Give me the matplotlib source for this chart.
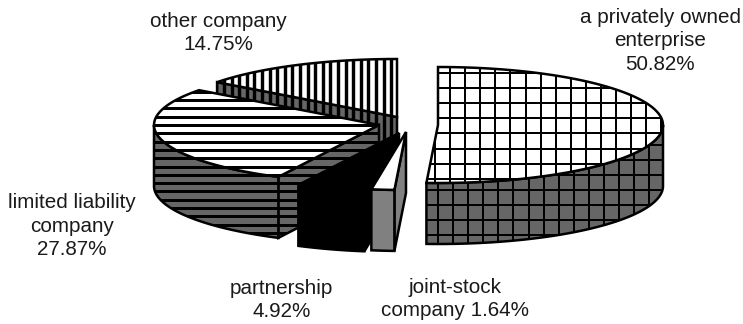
import numpy as np
import matplotlib
matplotlib.use("Agg")
import matplotlib.pyplot as plt
from matplotlib.patches import Polygon

plt.rcParams['font.family'] = ['Liberation Sans', 'DejaVu Sans']

# share of each company type, clockwise from 12 o'clock
names = ['a privately owned\nenterprise', 'joint-stock\ncompany', 'partnership',
         'limited liability\ncompany', 'other company']
shares = [50.82, 1.64, 4.92, 27.87, 14.75]

RX, RY, DEPTH = 225, 58, 61
GREY = '#666666'

# pie centre of each slice after pulling it out
centres = [(438, 125), (406, 132), (399, 133), (379, 125), (397, 117)]
# hatch: (vertical gap, vertical width, horizontal gap, horizontal width), 0 = no lines
hatches = [(15.1, 2, 15.1, 2), (0, 0, 0, 0), (0, 0, 0, 0), (0, 0, 8.3, 3), (7.6, 3.4, 0, 0)]
# line offsets (x, y) on the top face and on the sides
top_phase = [(12.1, 12.6), (0, 0), (0, 0), (0, 0.5), (3.6, 0)]
side_phase = [(0, 8.8), (0, 0), (0, 0), (0, 0.5), (3.6, 0)]
top_colors = ['white', 'white', 'black', 'white', 'white']
side_colors = [GREY, '#808080', 'black', GREY, GREY]

fig = plt.figure(figsize=(7.43, 3.24), dpi=100)
ax = fig.add_axes([0, 0, 1, 1])
ax.set_xlim(0, 743)
ax.set_ylim(324, 0)
ax.axis('off')


def rim(c, a):
    # a in degrees clockwise from the top of the ellipse
    a = np.radians(a)
    return np.column_stack([c[0] + RX * np.sin(a), c[1] - RY * np.cos(a)])


def face(points, color, hatch, z, phase):
    poly = Polygon(points, closed=True, fc=color, ec='none', zorder=z)
    ax.add_patch(poly)
    vgap, vw, hgap, hw = hatch
    if vgap:
        for x in np.arange(phase[0], 743, vgap):
            ln, = ax.plot([x, x], [0, 324], color='black', lw=vw * 0.72, zorder=z, solid_capstyle='butt')
            ln.set_clip_path(poly)
    if hgap:
        for y in np.arange(phase[1], 324, hgap):
            ln, = ax.plot([0, 743], [y, y], color='black', lw=hw * 0.72, zorder=z, solid_capstyle='butt')
            ln.set_clip_path(poly)
    ax.add_patch(Polygon(points, closed=True, fc='none', ec='black', lw=1.8, zorder=z, joinstyle='miter'))


def draw_slice(i, start, end, z):
    c = centres[i]
    hatch = hatches[i]
    arc = rim(c, np.linspace(start, end, 80))
    apex = np.array(c, dtype=float)
    down = np.array([0, DEPTH])

    # cut faces that turn towards the viewer
    if 180 < start < 360:
        p = rim(c, start)[0]
        face([apex, p, p + down, apex + down], side_colors[i], hatch, z, side_phase[i])

    # outer wall, only the near half of the ellipse shows
    lo, hi = max(start, 90), min(end, 270)
    if lo < hi:
        wall = rim(c, np.linspace(lo, hi, 80))
        face(np.vstack([wall, wall[::-1] + down]), side_colors[i], hatch, z, side_phase[i])

    face(np.vstack([apex, arc]), top_colors[i], hatch, z + 0.5, top_phase[i])


ends = np.cumsum(shares) * 3.6
starts = np.r_[0, ends[:-1]]
for i, z in zip([4, 3, 2, 1, 0], [1, 2, 3, 4, 5]):
    draw_slice(i, starts[i], ends[i], z)

labels = [f'{n}\n{s:.2f}%' if i != 1 else f'{n} {s:.2f}%' for i, (n, s) in enumerate(zip(names, shares))]
label_pos = [(660, 41), (455, 299), (281.5, 300), (72, 226), (218.5, 33)]
for text, (x, y) in zip(labels, label_pos):
    ax.text(x, y, text, ha='center', va='center', fontsize=14.9, color='#1a1a1a', linespacing=1.3, zorder=10)

fig.savefig('out.png', dpi=100)
